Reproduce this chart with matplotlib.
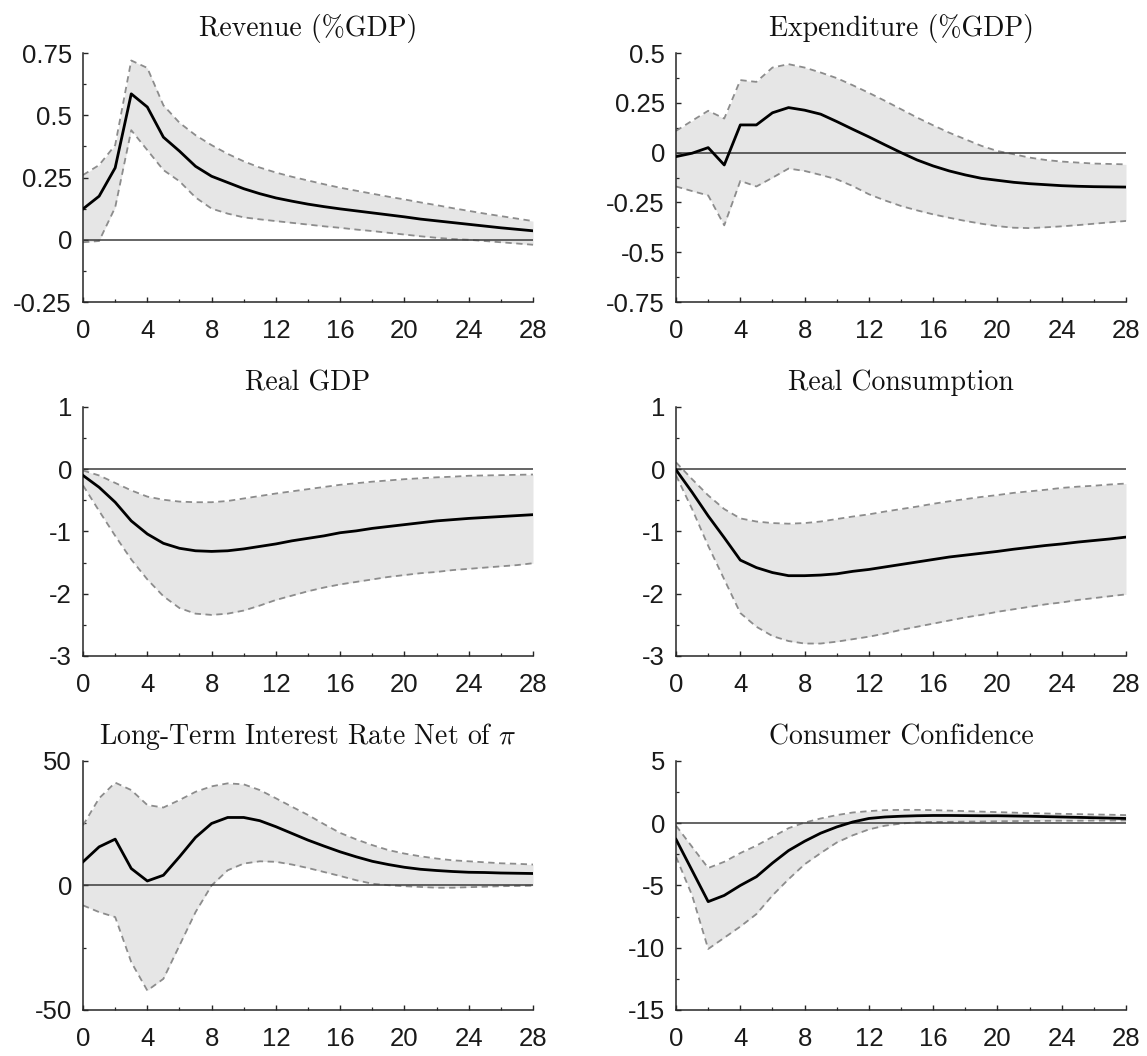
import matplotlib
matplotlib.use("Agg")
import matplotlib.pyplot as plt
from matplotlib.ticker import MultipleLocator, AutoMinorLocator, FixedLocator

plt.rcParams["font.family"] = ["Liberation Sans", "DejaVu Sans"]
plt.rcParams["mathtext.fontset"] = "cm"
plt.rcParams["axes.unicode_minus"] = False

# -------------------------------------------------------------
# Data: horizons 0..28, median response and band edges
# -------------------------------------------------------------
horizon = list(range(29))

rev_mid = [0.124, 0.175, 0.289, 0.586, 0.533, 0.412, 0.356, 0.295, 0.255, 0.23,
           0.205, 0.185, 0.168, 0.155, 0.143, 0.133, 0.124, 0.116, 0.108, 0.100,
           0.092, 0.083, 0.076, 0.069, 0.062, 0.055, 0.048, 0.042, 0.036]
rev_hi = [0.26, 0.30, 0.38, 0.72, 0.69, 0.54, 0.47, 0.42, 0.38, 0.345,
          0.315, 0.29, 0.27, 0.253, 0.238, 0.223, 0.209, 0.197, 0.185, 0.173,
          0.162, 0.15, 0.139, 0.127, 0.116, 0.105, 0.095, 0.085, 0.075]
rev_lo = [-0.01, -0.005, 0.13, 0.44, 0.36, 0.28, 0.235, 0.17, 0.125, 0.105,
          0.09, 0.082, 0.075, 0.068, 0.061, 0.054, 0.048, 0.041, 0.035, 0.028,
          0.021, 0.014, 0.008, 0.003, 0.0, -0.005, -0.01, -0.015, -0.02]

exp_mid = [-0.02, -0.003, 0.025, -0.062, 0.139, 0.139, 0.20, 0.226, 0.213, 0.193,
           0.156, 0.117, 0.079, 0.039, 0.0, -0.037, -0.067, -0.092, -0.112, -0.129,
           -0.139, -0.149, -0.156, -0.161, -0.166, -0.169, -0.171, -0.172, -0.173]
exp_hi = [0.109, 0.16, 0.21, 0.171, 0.364, 0.355, 0.427, 0.444, 0.427, 0.402,
          0.374, 0.338, 0.30, 0.26, 0.218, 0.176, 0.137, 0.10, 0.067, 0.034,
          0.008, -0.008, -0.025, -0.037, -0.045, -0.05, -0.055, -0.057, -0.059]
exp_lo = [-0.17, -0.193, -0.215, -0.365, -0.142, -0.17, -0.126, -0.08, -0.092, -0.112,
          -0.134, -0.168, -0.209, -0.24, -0.268, -0.29, -0.31, -0.327, -0.343, -0.357,
          -0.369, -0.377, -0.379, -0.375, -0.37, -0.364, -0.357, -0.35, -0.343]

gdp_mid = [-0.10, -0.29, -0.53, -0.83, -1.04, -1.19, -1.27, -1.31, -1.32, -1.31,
           -1.28, -1.24, -1.20, -1.15, -1.11, -1.07, -1.02, -0.99, -0.95, -0.92,
           -0.89, -0.86, -0.83, -0.81, -0.79, -0.775, -0.76, -0.745, -0.73]
gdp_hi = [-0.02, -0.10, -0.22, -0.34, -0.44, -0.49, -0.52, -0.53, -0.53, -0.51,
          -0.47, -0.43, -0.39, -0.355, -0.32, -0.285, -0.25, -0.225, -0.20, -0.18,
          -0.16, -0.145, -0.13, -0.12, -0.105, -0.10, -0.095, -0.09, -0.085]
gdp_lo = [-0.26, -0.67, -1.07, -1.45, -1.77, -2.04, -2.23, -2.32, -2.34, -2.32,
          -2.27, -2.19, -2.10, -2.03, -1.96, -1.90, -1.85, -1.81, -1.77, -1.73,
          -1.70, -1.67, -1.65, -1.62, -1.60, -1.58, -1.56, -1.54, -1.51]

cons_mid = [-0.01, -0.37, -0.75, -1.10, -1.46, -1.58, -1.66, -1.71, -1.71, -1.70,
            -1.68, -1.64, -1.61, -1.57, -1.53, -1.49, -1.45, -1.41, -1.38, -1.35,
            -1.32, -1.285, -1.255, -1.225, -1.20, -1.17, -1.145, -1.12, -1.09]
cons_hi = [0.11, -0.16, -0.42, -0.64, -0.79, -0.84, -0.865, -0.875, -0.865, -0.84,
           -0.80, -0.76, -0.725, -0.68, -0.64, -0.60, -0.555, -0.515, -0.48, -0.445,
           -0.415, -0.38, -0.355, -0.33, -0.30, -0.28, -0.265, -0.245, -0.23]
cons_lo = [-0.10, -0.64, -1.23, -1.77, -2.31, -2.53, -2.68, -2.76, -2.80, -2.80,
           -2.77, -2.73, -2.69, -2.64, -2.58, -2.53, -2.48, -2.43, -2.38, -2.34,
           -2.29, -2.25, -2.21, -2.17, -2.14, -2.10, -2.07, -2.04, -2.01]

rate_mid = [9.5, 15.5, 18.6, 6.8, 1.8, 4.1, 11.5, 19.3, 24.9, 27.3,
            27.3, 26.0, 23.6, 20.9, 18.2, 15.8, 13.5, 11.5, 9.7, 8.4,
            7.3, 6.5, 6.0, 5.6, 5.3, 5.2, 5.0, 4.9, 4.8]
rate_hi = [24.2, 35.0, 41.3, 38.3, 32.3, 31.3, 34.3, 37.6, 39.8, 41.0,
           40.6, 38.3, 35.0, 31.6, 28.3, 24.6, 21.1, 18.5, 16.2, 14.2,
           12.8, 11.7, 10.8, 10.1, 9.7, 9.3, 8.9, 8.7, 8.4]
rate_lo = [-8.0, -10.7, -12.7, -30.8, -42.2, -37.5, -24.1, -10.7, 0.0, 6.1,
           8.8, 9.7, 9.5, 8.4, 7.0, 5.4, 3.8, 2.1, 0.7, 0.1,
           -0.3, -0.6, -0.9, -0.9, -0.7, -0.5, -0.3, -0.2, -0.1]

conf_mid = [-1.3, -3.8, -6.3, -5.8, -5.0, -4.3, -3.2, -2.2, -1.45, -0.8,
            -0.3, 0.1, 0.38, 0.5, 0.56, 0.6, 0.62, 0.62, 0.61, 0.6,
            0.6, 0.58, 0.56, 0.53, 0.5, 0.47, 0.44, 0.41, 0.38]
conf_hi = [-0.2, -1.9, -3.6, -3.1, -2.4, -1.8, -1.1, -0.4, 0.05, 0.38,
           0.65, 0.86, 0.97, 1.05, 1.07, 1.07, 1.05, 1.01, 0.97, 0.93,
           0.89, 0.85, 0.8, 0.78, 0.75, 0.73, 0.7, 0.68, 0.65]
conf_lo = [-2.7, -5.8, -10.1, -9.2, -8.3, -7.3, -5.8, -4.5, -3.3, -2.4,
           -1.55, -0.97, -0.5, -0.2, -0.03, 0.08, 0.1, 0.11, 0.13, 0.14,
           0.16, 0.17, 0.18, 0.19, 0.2, 0.2, 0.21, 0.21, 0.22]

titles = ["Revenue (%GDP)", "Expenditure (%GDP)", "Real GDP", "Real Consumption",
          "Long-Term Interest Rate Net of $\\pi$", "Consumer Confidence"]
mids = [rev_mid, exp_mid, gdp_mid, cons_mid, rate_mid, conf_mid]
lows = [rev_lo, exp_lo, gdp_lo, cons_lo, rate_lo, conf_lo]
highs = [rev_hi, exp_hi, gdp_hi, cons_hi, rate_hi, conf_hi]
yticks = [
    [-0.25, 0, 0.25, 0.5, 0.75],
    [-0.75, -0.5, -0.25, 0, 0.25, 0.5],
    [-3, -2, -1, 0, 1],
    [-3, -2, -1, 0, 1],
    [-50, 0, 50],
    [-15, -10, -5, 0, 5],
]
yticklabels = [
    ["-0.25", "0", "0.25", "0.5", "0.75"],
    ["-0.75", "-0.5", "-0.25", "0", "0.25", "0.5"],
    ["-3", "-2", "-1", "0", "1"],
    ["-3", "-2", "-1", "0", "1"],
    ["-50", "0", "50"],
    ["-15", "-10", "-5", "0", "5"],
]

# axes rectangles in figure fractions
lefts = [0.0724, 0.5894]
width = 0.3923
bottoms = [0.714, 0.3788, 0.0436]
height = 0.2358

fig = plt.figure(figsize=(11.47, 10.56), dpi=100)

for k in range(6):
    r, c = divmod(k, 2)
    ax = fig.add_axes([lefts[c], bottoms[r], width, height])

    ax.fill_between(horizon, lows[k], highs[k], color="#e6e6e6", linewidth=0, zorder=1)
    ax.plot(horizon, highs[k], color="#8c8c8c", linestyle=(0, (3.5, 2.5)), linewidth=1.3, zorder=2)
    ax.plot(horizon, lows[k], color="#8c8c8c", linestyle=(0, (3.5, 2.5)), linewidth=1.3, zorder=2)
    ax.axhline(0, color="#3a3a3a", linewidth=1.1, zorder=3)
    ax.plot(horizon, mids[k], color="black", linewidth=2.0, zorder=4)

    ax.set_xlim(0, 28)
    ax.set_ylim(yticks[k][0], yticks[k][-1])
    ax.xaxis.set_major_locator(MultipleLocator(4))
    ax.xaxis.set_minor_locator(MultipleLocator(2))
    ax.yaxis.set_major_locator(FixedLocator(yticks[k]))
    ax.set_yticklabels(yticklabels[k])
    ax.yaxis.set_minor_locator(AutoMinorLocator(2))

    for side in ("top", "right"):
        ax.spines[side].set_visible(False)
    for side in ("left", "bottom"):
        ax.spines[side].set_color("#262626")
        ax.spines[side].set_linewidth(1.1)

    ax.tick_params(which="both", direction="in", colors="#262626", labelcolor="#1a1a1a")
    ax.tick_params(which="major", length=3.5, width=1.0, labelsize=18.5)
    ax.tick_params(which="minor", length=2.5, width=0.9)
    ax.tick_params(axis="x", which="major", pad=12)
    ax.tick_params(axis="y", which="major", pad=8)

    ax.set_title(titles[k], fontsize=20, family="cmr10", pad=12, color="#111111")

fig.savefig("out.png", dpi=100)
